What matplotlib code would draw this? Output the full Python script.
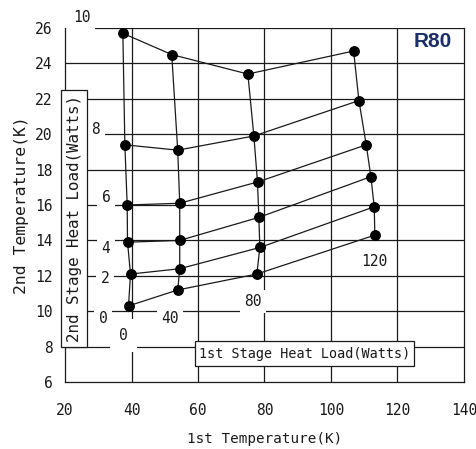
import numpy as np
import matplotlib
matplotlib.use("Agg")
import matplotlib.pyplot as plt
from matplotlib.patches import Rectangle

# 1st stage heat load (W), one roughly vertical curve each
load1 = [0, 40, 80, 120]
# 2nd stage heat load (W), one roughly horizontal curve each
load2 = [0, 2, 4, 6, 8, 10]

# 1st stage temperature (K): rows follow load2, columns follow load1
temp1 = np.array([
    [39.1, 53.9, 77.7, 113.2],
    [39.7, 54.5, 78.6, 113.0],
    [38.8, 54.5, 78.3, 112.0],
    [38.7, 54.5, 77.9, 110.6],
    [38.0, 53.9, 76.8, 108.4],
    [37.4, 52.1, 75.0, 106.8],
])
# 2nd stage temperature (K), same layout
temp2 = np.array([
    [10.3, 11.2, 12.1, 14.3],
    [12.1, 12.4, 13.6, 15.9],
    [13.9, 14.0, 15.3, 17.6],
    [16.0, 16.1, 17.3, 19.4],
    [19.4, 19.1, 19.9, 21.9],
    [25.7, 24.5, 23.4, 24.7],
])

xticks = [20, 40, 60, 80, 100, 120, 140]
yticks = [6, 8, 10, 12, 14, 16, 18, 20, 22, 24, 26]

# where the load labels sit on the map
load2_pos = [(31.4, 9.6), (32.0, 11.84), (32.3, 13.53), (32.3, 16.4), (29.3, 20.27), (25.1, 26.62)]
load1_pos = [(37.6, 8.64), (51.5, 9.6), (76.5, 10.55), (113.1, 12.8)]

plt.rcParams['font.family'] = ['DejaVu Sans Mono']
ink = '#1a1a1a'

fig = plt.figure(figsize=(4.77, 4.49), dpi=100)
ax = fig.add_axes([0.1363, 0.1492, 0.8364, 0.7884])
ax.set_xlim(20, 140)
ax.set_ylim(6, 26)
ax.set_xticks(xticks)
ax.set_yticks(yticks)
ax.tick_params(length=0, labelsize=10.5, colors=ink)
ax.tick_params(axis='x', pad=15)
ax.tick_params(axis='y', pad=9)

# grid (the top line is broken at the left by the "10" label)
for v in xticks[1:-1]:
    ax.axvline(v, color=ink, lw=0.9, zorder=1)
for v in yticks[1:-1]:
    ax.axhline(v, color=ink, lw=0.9, zorder=1)
ax.axhline(26, xmin=0.075, color=ink, lw=0.9, zorder=1)
ax.spines['top'].set_visible(False)
for s in ['left', 'right', 'bottom']:
    ax.spines[s].set_color(ink)
    ax.spines[s].set_linewidth(0.9)

# constant 2nd stage load curves
for i in range(len(load2)):
    ax.plot(temp1[i], temp2[i], color=ink, lw=0.9, zorder=2)
# constant 1st stage load curves
for j in range(len(load1)):
    ax.plot(temp1[:, j], temp2[:, j], color=ink, lw=0.9, zorder=2)
ax.plot(temp1.ravel(), temp2.ravel(), 'o', color='black', ms=6.8, zorder=3)

lab_box = dict(boxstyle='square,pad=0.3', fc='white', ec='none')
for w, (x, y) in zip(load2, load2_pos):
    ax.text(x, y, str(w), ha='center', va='center', fontsize=10.5, color=ink,
            bbox=lab_box, zorder=4, clip_on=False)
for k, (w, (x, y)) in enumerate(zip(load1, load1_pos)):
    pad = 0.6 if k == 0 else 0.3
    ax.text(x, y, str(w), ha='center', va='center', fontsize=10.5, color=ink,
            bbox=dict(boxstyle='square,pad=%s' % pad, fc='white', ec='none'),
            zorder=4, clip_on=False)

# framed axis captions inside the plot
ax.add_patch(Rectangle((18.8, 7.97), 7.9, 14.53, fc='white', ec=ink, lw=0.9,
                       zorder=4, clip_on=False))
ax.text(22.75, 15.23, '2nd Stage Heat Load(Watts)', rotation=90, ha='center',
        va='center', fontsize=11.4, color=ink, zorder=5)
ax.add_patch(Rectangle((59.0, 6.9), 66.1, 1.43, fc='white', ec=ink, lw=0.9,
                       zorder=4, clip_on=False))
ax.text(92.05, 7.6, '1st Stage Heat Load(Watts)', ha='center', va='center',
        fontsize=9.75, color=ink, zorder=5)

ax.text(130.5, 25.24, 'R80', ha='center', va='center', fontsize=15,
        fontweight='bold', family='Liberation Sans', color='#1b2f66', zorder=5)

ax.set_xlabel('1st Temperature(K)', fontsize=10.3, color=ink, labelpad=10)
ax.set_ylabel('2nd Temperature(K)', fontsize=11.8, color=ink, labelpad=4)

fig.savefig('out.png', dpi=100, facecolor='white')
